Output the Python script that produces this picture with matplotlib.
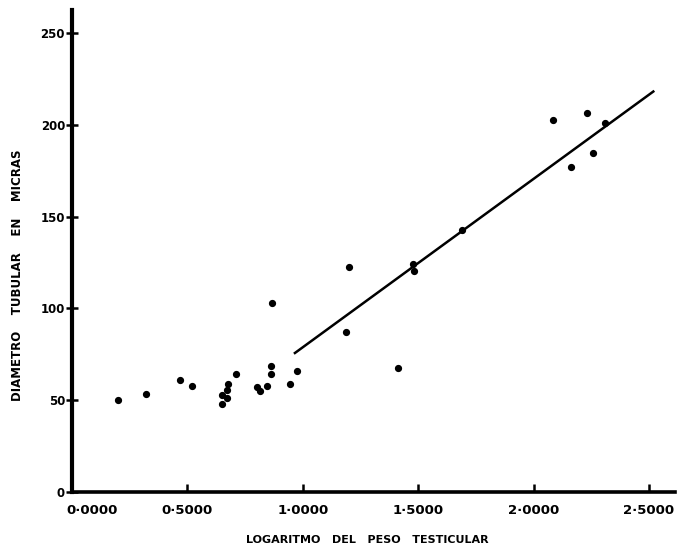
import matplotlib
matplotlib.use("Agg")
import matplotlib.pyplot as plt
import matplotlib.transforms as mtransforms

# values
log_weight = [0.198, 0.321, 0.468, 0.519, 0.651, 0.649, 0.672, 0.673, 0.675,
              0.711, 0.800, 0.815, 0.844, 0.861, 0.862, 0.867, 0.945, 0.974,
              1.187, 1.200, 1.411, 1.479, 1.482, 1.688, 2.085, 2.161, 2.233,
              2.256, 2.309]
diameter = [50.1, 53.5, 61.0, 57.5, 47.7, 52.8, 51.2, 55.6, 58.7,
            64.1, 57.4, 55.0, 57.7, 64.5, 68.6, 103.0, 58.6, 65.8,
            87.3, 122.5, 67.5, 124.2, 120.2, 142.7, 202.6, 176.9, 206.6,
            184.8, 200.8]

# regression line drawn on the figure (end points)
fit_x = [0.966, 2.519]
fit_y = [75.7, 218.1]

x_ticks = [0.0, 0.5, 1.0, 1.5, 2.0, 2.5]
x_labels = ["0\u00b70000", "0\u00b75000", "1\u00b70000", "1\u00b75000", "2\u00b70000", "2\u00b75000"]
y_ticks = [0, 50, 100, 150, 200, 250]
y_labels = ["0", "50", "100", "150", "200", "250"]

plt.rcParams['font.family'] = ['DejaVu Sans']

fig = plt.figure(figsize=(6.9, 5.45), dpi=100)
ax = fig.add_axes([72 / 690, 1 - 492 / 545, (675 - 72) / 690, (492 - 10) / 545])

ax.plot(log_weight, diameter, 'o', color='black', markersize=4.2, clip_on=False)
ax.plot(fit_x, fit_y, '-', color='black', linewidth=1.8)

ax.set_xlim(0, 2.613)
ax.set_ylim(0, 262.5)

for side in ['top', 'right']:
    ax.spines[side].set_visible(False)
ax.spines['left'].set_linewidth(3)
ax.spines['bottom'].set_linewidth(2.6)

ax.set_xticks(x_ticks)
ax.set_xticklabels(x_labels, fontsize=9.5, fontweight='bold')
ax.set_yticks(y_ticks)
ax.set_yticklabels(y_labels, fontsize=8.5, fontweight='bold')
ax.tick_params(axis='x', direction='in', length=6, width=1.8, pad=9)
ax.tick_params(axis='y', direction='inout', length=8, width=1.8, pad=1)

# first x label sits a little to the right of its tick in the original
shift = mtransforms.ScaledTranslation(0.2, 0, fig.dpi_scale_trans)
lbl = ax.get_xticklabels()[0]
lbl.set_transform(lbl.get_transform() + shift)

ax.set_xlabel("LOGARITMO   DEL   PESO   TESTICULAR", fontsize=8,
              fontweight='bold')
ax.xaxis.set_label_coords(0.49, -0.09)
ax.set_ylabel("DIAMETRO    TUBULAR    EN    MICRAS", fontsize=8.5,
              fontweight='bold')
ax.yaxis.set_label_coords(-0.08, 0.45)

fig.savefig("out.png", dpi=100, facecolor='white')
